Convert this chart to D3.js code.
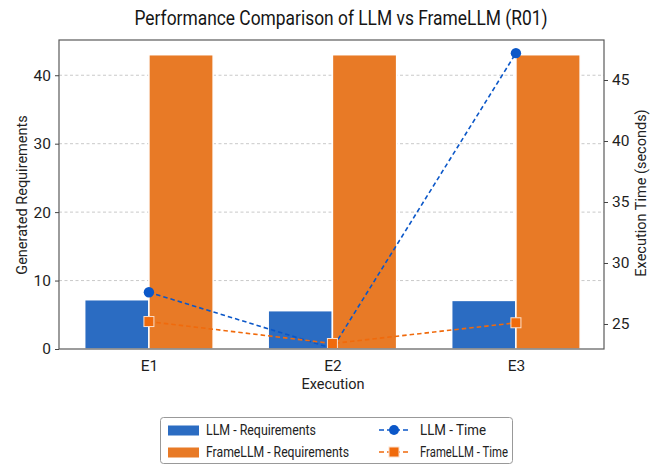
<!DOCTYPE html>
<html><head><meta charset="utf-8">
<script src="https://cdn.jsdelivr.net/npm/d3@7"></script>
<style>body{margin:0;background:#fff;}svg{display:block;font-family:Roboto,"Liberation Sans",sans-serif;}</style>
</head><body><svg id="c" width="665" height="466"></svg>
<script>
const categories = ["E1", "E2", "E3"];
const llmRequirements = [7.2, 5.6, 7.1];
const frameRequirements = [43, 43, 43];
const llmTime = [27.6, 23.0, 47.2];
const frameTime = [25.2, 23.4, 25.1];
const leftTicks = [0, 10, 20, 30, 40];
const rightTicks = [25, 30, 35, 40, 45];

const svg = d3.select("#c");
const L = 59, R = 604, T = 40, B = 349;
const barW = 0.35;
const x = d3.scaleLinear().domain([-0.49, 2.48]).range([L, R]);
const yL = d3.scaleLinear().domain([0, 45.15]).range([B, T]);
const yR = d3.scaleLinear().domain([22.95, 48.28]).range([B, T]);

const cBlue = "#2b6cc2", cOrange = "#e87a26", cLineBlue = "#0b57c8", cLineOrange = "#f06a0c";

svg.append("rect").attr("width", 665).attr("height", 466).attr("fill", "#fff");

// grid
svg.append("g").selectAll("line").data(leftTicks.filter(d => d > 0)).join("line")
  .attr("x1", L).attr("x2", R).attr("y1", d => yL(d)).attr("y2", d => yL(d))
  .attr("stroke", "#c4c4c4").attr("stroke-width", 0.9).attr("stroke-dasharray", "3,2.5");

// bars
const g = svg.append("g");
g.selectAll(".b1").data(llmRequirements).join("rect")
  .attr("x", (d, i) => x(i - barW)).attr("width", x(barW) - x(0))
  .attr("y", d => yL(d)).attr("height", d => yL(0) - yL(d))
  .attr("fill", cBlue).attr("stroke", "#fff").attr("stroke-width", 1.5);
g.selectAll(".b2").data(frameRequirements).join("rect")
  .attr("x", (d, i) => x(i)).attr("width", x(barW) - x(0))
  .attr("y", d => yL(d)).attr("height", d => yL(0) - yL(d))
  .attr("fill", cOrange).attr("stroke", "#fff").attr("stroke-width", 1.5);

// clip
svg.append("clipPath").attr("id", "clip").append("rect").attr("x", L).attr("y", T).attr("width", R - L).attr("height", B - T);
const lg = svg.append("g").attr("clip-path", "url(#clip)");
const line = d3.line().x((d, i) => x(i)).y(d => yR(d));
lg.append("path").datum(llmTime).attr("d", line).attr("fill", "none")
  .attr("stroke", cLineBlue).attr("stroke-width", 1.6).attr("stroke-dasharray", "4.5,3");
lg.selectAll(".m1").data(llmTime).join("circle")
  .attr("cx", (d, i) => x(i)).attr("cy", d => yR(d)).attr("r", 5.2).attr("fill", cLineBlue);
lg.append("path").datum(frameTime).attr("d", line).attr("fill", "none")
  .attr("stroke", cLineOrange).attr("stroke-width", 1.6).attr("stroke-dasharray", "4.5,3");
lg.selectAll(".m2").data(frameTime).join("rect")
  .attr("x", (d, i) => x(i) - 5).attr("y", d => yR(d) - 5).attr("width", 10).attr("height", 10)
  .attr("fill", cLineOrange).attr("stroke", "#fbe0cc").attr("stroke-width", 1);

// frame
svg.append("rect").attr("x", L).attr("y", T).attr("width", R - L).attr("height", B - T)
  .attr("fill", "none").attr("stroke", "#5a5a5a").attr("stroke-width", 1.2);

// axes
const axL = svg.append("g").attr("transform", `translate(${L},0)`)
  .call(d3.axisLeft(yL).tickValues(leftTicks).tickSize(4).tickPadding(4));
const axR = svg.append("g").attr("transform", `translate(${R},0)`)
  .call(d3.axisRight(yR).tickValues(rightTicks).tickSize(4).tickPadding(4));
const axB = svg.append("g").attr("transform", `translate(0,${B})`)
  .call(d3.axisBottom(x).tickValues([0, 1, 2]).tickFormat(i => categories[i]).tickSize(0).tickPadding(11));
[axL, axR, axB].forEach(a => {
  a.select(".domain").remove();
  a.selectAll("line").attr("stroke", "#444");
  a.selectAll("text").attr("font-size", 15.5).attr("fill", "#1e1e1e").attr("font-family", "Roboto, sans-serif");
});

// labels
svg.append("text").attr("x", 341).attr("y", 25).attr("text-anchor", "middle")
  .attr("font-size", 19.5).attr("fill", "#151515")
  .attr("textLength", 413).attr("lengthAdjust", "spacingAndGlyphs")
  .text("Performance Comparison of LLM vs FrameLLM (R01)");
svg.append("text").attr("x", 333).attr("y", 389).attr("text-anchor", "middle")
  .attr("font-size", 14.5).attr("fill", "#222").text("Execution");
svg.append("text").attr("transform", "translate(27,195) rotate(-90)").attr("text-anchor", "middle")
  .attr("font-size", 14.5).attr("fill", "#222").text("Generated Requirements");
svg.append("text").attr("transform", "translate(646,193) rotate(-90)").attr("text-anchor", "middle")
  .attr("font-size", 14.5).attr("fill", "#222").text("Execution Time (seconds)");

// legend
const leg = svg.append("g");
leg.append("rect").attr("x", 160.5).attr("y", 417.5).attr("width", 352).attr("height", 46).attr("rx", 3)
  .attr("fill", "#fff").attr("stroke", "#999").attr("stroke-width", 1);
const items = [
  {t: "LLM - Requirements", type: "bar", c: cBlue, x: 168, y: 430, w: 110},
  {t: "FrameLLM - Requirements", type: "bar", c: cOrange, x: 168, y: 452, w: 143},
  {t: "LLM - Time", type: "circle", c: cLineBlue, x: 377, y: 430, w: 66},
  {t: "FrameLLM - Time", type: "square", c: cLineOrange, x: 377, y: 452, w: 88}
];
items.forEach(it => {
  if (it.type === "bar") {
    leg.append("rect").attr("x", it.x).attr("y", it.y - 4.5).attr("width", 31).attr("height", 10).attr("fill", it.c);
  } else {
    leg.append("line").attr("x1", it.x + 2).attr("x2", it.x + 32).attr("y1", it.y).attr("y2", it.y)
      .attr("stroke", it.c).attr("stroke-width", 1.6).attr("stroke-dasharray", "5,3");
    if (it.type === "circle") leg.append("circle").attr("cx", it.x + 17).attr("cy", it.y).attr("r", 5).attr("fill", it.c);
    else leg.append("rect").attr("x", it.x + 12).attr("y", it.y - 5).attr("width", 10).attr("height", 10).attr("fill", it.c).attr("stroke", "#fbe0cc");
  }
  leg.append("text").attr("x", it.x + (it.type === "bar" ? 38 : 43)).attr("y", it.y + 5)
    .attr("font-size", 14).attr("fill", "#222")
    .attr("textLength", it.w).attr("lengthAdjust", "spacingAndGlyphs").text(it.t);
});
</script></body></html>
